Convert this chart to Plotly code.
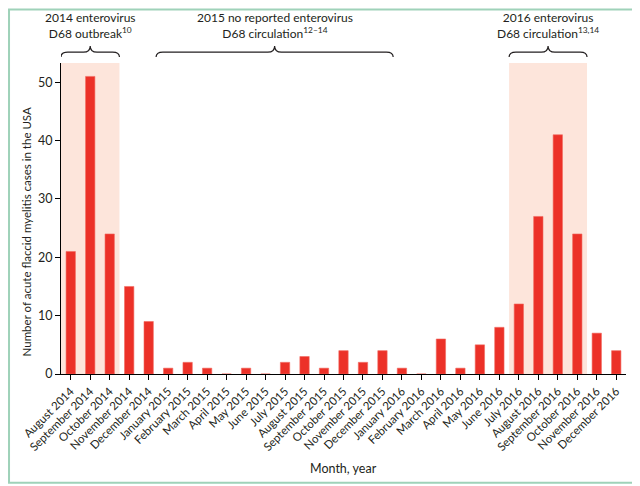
import plotly.graph_objects as go

months = ["August 2014", "September 2014", "October 2014", "November 2014", "December 2014",
          "January 2015", "February 2015", "March 2015", "April 2015", "May 2015", "June 2015",
          "July 2015", "August 2015", "September 2015", "October 2015", "November 2015",
          "December 2015", "January 2016", "February 2016", "March 2016", "April 2016",
          "May 2016", "June 2016", "July 2016", "August 2016", "September 2016",
          "October 2016", "November 2016", "December 2016"]
cases = [21, 51, 24, 15, 9, 1, 2, 1, 0, 1, 0, 2, 3, 1, 4, 2, 4, 1, 0, 6, 1, 5, 8, 12, 27, 41, 24, 7, 4]

# shaded enterovirus periods (first index, last index)
periods_shaded = [(0, 2), (23, 26)]
brace_spans = [(-0.5, 2.5), (4.38, 16.55), (22.5, 26.5)]
brace_labels = ["2014 enterovirus<br>D68 outbreak<sup>10</sup>",
                "2015 no reported enterovirus<br>D68 circulation<sup>12–14</sup>",
                "2016 enterovirus<br>D68 circulation<sup>13,14</sup>"]

FONT = "Lato, sans-serif"
TXT = "#231f20"

fig = go.Figure(go.Bar(x=list(range(len(months))), y=cases,
                       marker=dict(color="#ec3128", line=dict(color="#f26a5f", width=0.6)),
                       width=0.48))

shapes = []
for a, b in periods_shaded:
    shapes.append(dict(type="rect", xref="x", yref="paper", x0=a - 0.5, x1=b + 0.5,
                       y0=0, y1=1, fillcolor="#fde5db", line_width=0, layer="below"))


def brace(x0, x1, y_end=1.019, y_line=1.035, y_tip=1.055, r=0.35):
    xm = (x0 + x1) / 2
    return (f"M {x0},{y_end} Q {x0},{y_line} {x0 + r},{y_line} L {xm - r},{y_line} "
            f"Q {xm},{y_line} {xm},{y_tip} Q {xm},{y_line} {xm + r},{y_line} "
            f"L {x1 - r},{y_line} Q {x1},{y_line} {x1},{y_end}")


annotations = []
for (x0, x1), lab in zip(brace_spans, brace_labels):
    shapes.append(dict(type="path", xref="x", yref="paper", path=brace(x0, x1),
                       line=dict(color=TXT, width=1.2)))
    annotations.append(dict(x=(x0 + x1) / 2, y=1.065, xref="x", yref="paper", text=lab,
                            showarrow=False, yanchor="bottom", align="center",
                            font=dict(family=FONT, size=12, color=TXT)))

# outer green frame
shapes.append(dict(type="rect", xref="paper", yref="paper", x0=-0.092, x1=1.018,
                   y0=-0.35, y1=1.172, line=dict(color="#9fd2b9", width=2), fillcolor="rgba(0,0,0,0)"))

annotations.append(dict(x=-0.076, y=0.457, xref="paper", yref="paper", showarrow=False,
                        text="Number of acute flaccid myelitis cases in the USA", textangle=-90,
                        font=dict(family=FONT, size=11.5, color=TXT)))
annotations.append(dict(x=0.5, y=-0.305, xref="paper", yref="paper", showarrow=False,
                        text="Month, year", yanchor="middle",
                        font=dict(family=FONT, size=12.5, color=TXT)))

# page body adds an 8px offset, so the figure is 8px smaller and margins shifted
fig.update_layout(
    width=632, height=478,
    margin=dict(l=53, r=14, t=55, b=112),
    plot_bgcolor="white", paper_bgcolor="white",
    shapes=shapes, annotations=annotations,
    showlegend=False,
    font=dict(family=FONT, color=TXT),
    xaxis=dict(tickmode="array", tickvals=list(range(len(months))), ticktext=months,
               tickangle=-45, range=[-0.5, len(months) - 0.5], showgrid=False, automargin=False,
               showline=True, linecolor="black", linewidth=1.2,
               ticks="outside", tickson="boundaries", ticklen=5, tickcolor="black",
               tickfont=dict(family=FONT, size=11.5, color=TXT)),
    yaxis=dict(range=[0, 53.3], tickvals=[0, 10, 20, 30, 40, 50], showgrid=False, zeroline=False,
               automargin=False, showline=True, linecolor="black", linewidth=1.2,
               ticks="outside", ticklen=5, tickcolor="black",
               tickfont=dict(family=FONT, size=12.5, color=TXT)),
)

fig.write_html("out.html")
